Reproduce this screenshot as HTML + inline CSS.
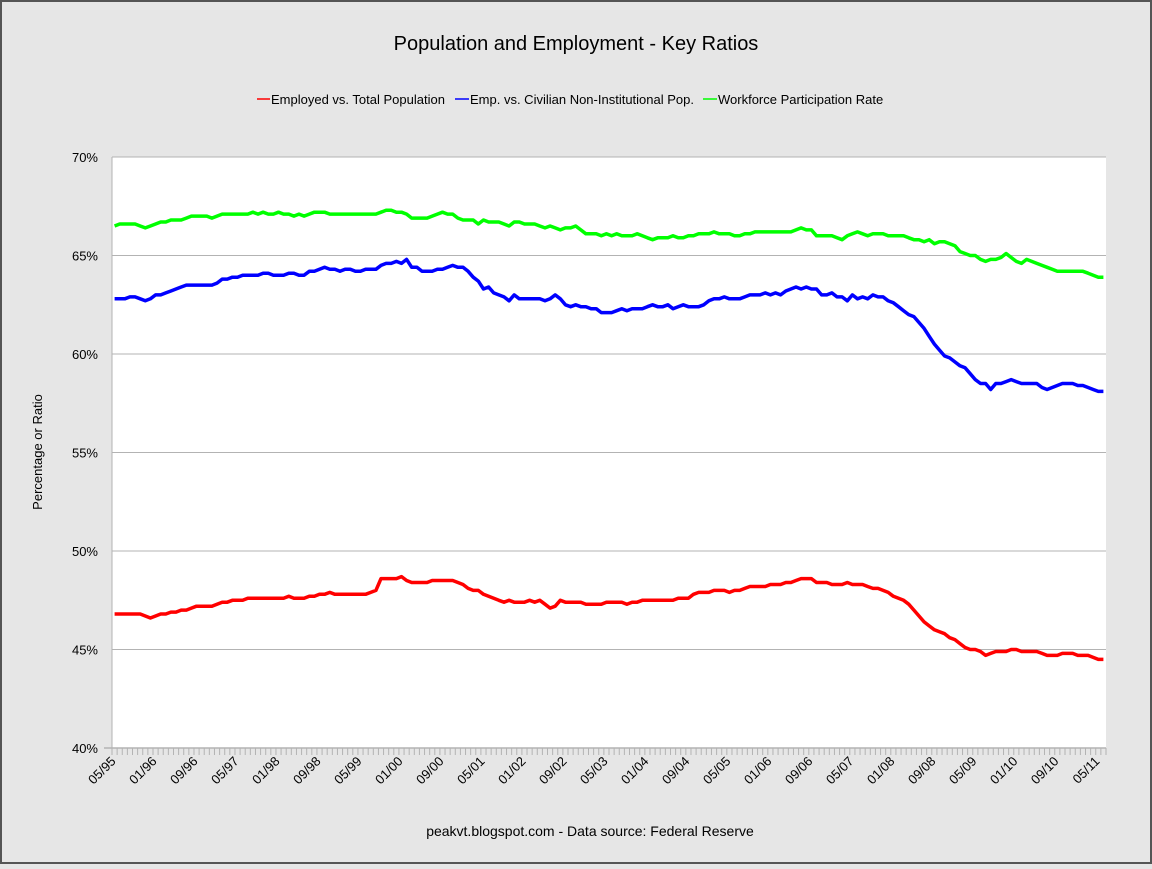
<!DOCTYPE html>
<html><head><meta charset="utf-8"><style>
html,body{margin:0;padding:0;}
body{width:1152px;height:864px;background:#e6e6e6;font-family:"Liberation Sans",sans-serif;overflow:hidden;}
</style></head><body>
<svg id="chart" width="1152" height="864" xmlns="http://www.w3.org/2000/svg" font-family="Liberation Sans, sans-serif">
<rect x="1" y="1" width="1150" height="862" fill="#e6e6e6" stroke="#555" stroke-width="2"/>
<text x="576" y="50" text-anchor="middle" font-size="20" fill="#000">Population and Employment - Key Ratios</text>
<g font-size="13">
<g><line x1="257" y1="99" x2="270" y2="99" stroke="#ff0000" stroke-width="1.5"/><text x="271" y="104" fill="#000">Employed vs. Total Population</text></g>
<g><line x1="455" y1="99" x2="469" y2="99" stroke="#0000ff" stroke-width="1.5"/><text x="470" y="104" fill="#000">Emp. vs. Civilian Non-Institutional Pop.</text></g>
<g><line x1="703" y1="99" x2="717" y2="99" stroke="#00ff00" stroke-width="1.5"/><text x="718" y="104" fill="#000">Workforce Participation Rate</text></g>
</g>
<text transform="translate(42,452) rotate(-90)" text-anchor="middle" font-size="13" fill="#000">Percentage or Ratio</text>
<text x="590" y="836" text-anchor="middle" font-size="14" fill="#000">peakvt.blogspot.com - Data source: Federal Reserve</text>
<rect x="112" y="157" width="994" height="591" fill="#fff"/>
<g id="grid"></g><g id="axes"></g><g id="series"></g>
</svg>
<script>
const yTicks=[40,45,50,55,60,65,70];
const xLabels=["05/95","01/96","09/96","05/97","01/98","09/98","05/99","01/00","09/00","05/01","01/02","09/02","05/03","01/04","09/04","05/05","01/06","09/06","05/07","01/08","09/08","05/09","01/10","09/10","05/11"];
const totalPop=[46.8,46.8,46.8,46.8,46.8,46.8,46.7,46.6,46.7,46.8,46.8,46.9,46.9,47.0,47.0,47.1,47.2,47.2,47.2,47.2,47.3,47.4,47.4,47.5,47.5,47.5,47.6,47.6,47.6,47.6,47.6,47.6,47.6,47.6,47.7,47.6,47.6,47.6,47.7,47.7,47.8,47.8,47.9,47.8,47.8,47.8,47.8,47.8,47.8,47.8,47.9,48.0,48.6,48.6,48.6,48.6,48.7,48.5,48.4,48.4,48.4,48.4,48.5,48.5,48.5,48.5,48.5,48.4,48.3,48.1,48.0,48.0,47.8,47.7,47.6,47.5,47.4,47.5,47.4,47.4,47.4,47.5,47.4,47.5,47.3,47.1,47.2,47.5,47.4,47.4,47.4,47.4,47.3,47.3,47.3,47.3,47.4,47.4,47.4,47.4,47.3,47.4,47.4,47.5,47.5,47.5,47.5,47.5,47.5,47.5,47.6,47.6,47.6,47.8,47.9,47.9,47.9,48.0,48.0,48.0,47.9,48.0,48.0,48.1,48.2,48.2,48.2,48.2,48.3,48.3,48.3,48.4,48.4,48.5,48.6,48.6,48.6,48.4,48.4,48.4,48.3,48.3,48.3,48.4,48.3,48.3,48.3,48.2,48.1,48.1,48.0,47.9,47.7,47.6,47.5,47.3,47.0,46.7,46.4,46.2,46.0,45.9,45.8,45.6,45.5,45.3,45.1,45.0,45.0,44.9,44.7,44.8,44.9,44.9,44.9,45.0,45.0,44.9,44.9,44.9,44.9,44.8,44.7,44.7,44.7,44.8,44.8,44.8,44.7,44.7,44.7,44.6,44.5,44.5];
const civilianPop=[62.8,62.8,62.8,62.9,62.9,62.8,62.7,62.8,63.0,63.0,63.1,63.2,63.3,63.4,63.5,63.5,63.5,63.5,63.5,63.5,63.6,63.8,63.8,63.9,63.9,64.0,64.0,64.0,64.0,64.1,64.1,64.0,64.0,64.0,64.1,64.1,64.0,64.0,64.2,64.2,64.3,64.4,64.3,64.3,64.2,64.3,64.3,64.2,64.2,64.3,64.3,64.3,64.5,64.6,64.6,64.7,64.6,64.8,64.4,64.4,64.2,64.2,64.2,64.3,64.3,64.4,64.5,64.4,64.4,64.2,63.9,63.7,63.3,63.4,63.1,63.0,62.9,62.7,63.0,62.8,62.8,62.8,62.8,62.8,62.7,62.8,63.0,62.8,62.5,62.4,62.5,62.4,62.4,62.3,62.3,62.1,62.1,62.1,62.2,62.3,62.2,62.3,62.3,62.3,62.4,62.5,62.4,62.4,62.5,62.3,62.4,62.5,62.4,62.4,62.4,62.5,62.7,62.8,62.8,62.9,62.8,62.8,62.8,62.9,63.0,63.0,63.0,63.1,63.0,63.1,63.0,63.2,63.3,63.4,63.3,63.4,63.3,63.3,63.0,63.0,63.1,62.9,62.9,62.7,63.0,62.8,62.9,62.8,63.0,62.9,62.9,62.7,62.6,62.4,62.2,62.0,61.9,61.6,61.3,60.9,60.5,60.2,59.9,59.8,59.6,59.4,59.3,59.0,58.7,58.5,58.5,58.2,58.5,58.5,58.6,58.7,58.6,58.5,58.5,58.5,58.5,58.3,58.2,58.3,58.4,58.5,58.5,58.5,58.4,58.4,58.3,58.2,58.1,58.1];
const participation=[66.5,66.6,66.6,66.6,66.6,66.5,66.4,66.5,66.6,66.7,66.7,66.8,66.8,66.8,66.9,67.0,67.0,67.0,67.0,66.9,67.0,67.1,67.1,67.1,67.1,67.1,67.1,67.2,67.1,67.2,67.1,67.1,67.2,67.1,67.1,67.0,67.1,67.0,67.1,67.2,67.2,67.2,67.1,67.1,67.1,67.1,67.1,67.1,67.1,67.1,67.1,67.1,67.2,67.3,67.3,67.2,67.2,67.1,66.9,66.9,66.9,66.9,67.0,67.1,67.2,67.1,67.1,66.9,66.8,66.8,66.8,66.6,66.8,66.7,66.7,66.7,66.6,66.5,66.7,66.7,66.6,66.6,66.6,66.5,66.4,66.5,66.4,66.3,66.4,66.4,66.5,66.3,66.1,66.1,66.1,66.0,66.1,66.0,66.1,66.0,66.0,66.0,66.1,66.0,65.9,65.8,65.9,65.9,65.9,66.0,65.9,65.9,66.0,66.0,66.1,66.1,66.1,66.2,66.1,66.1,66.1,66.0,66.0,66.1,66.1,66.2,66.2,66.2,66.2,66.2,66.2,66.2,66.2,66.3,66.4,66.3,66.3,66.0,66.0,66.0,66.0,65.9,65.8,66.0,66.1,66.2,66.1,66.0,66.1,66.1,66.1,66.0,66.0,66.0,66.0,65.9,65.8,65.8,65.7,65.8,65.6,65.7,65.7,65.6,65.5,65.2,65.1,65.0,65.0,64.8,64.7,64.8,64.8,64.9,65.1,64.9,64.7,64.6,64.8,64.7,64.6,64.5,64.4,64.3,64.2,64.2,64.2,64.2,64.2,64.2,64.1,64.0,63.9,63.9];

const NS="http://www.w3.org/2000/svg";
const X0=112,X1=1106,Y0=748,Y1=157,N=totalPop.length;
const step=(X1-X0)/N;
function xPos(i){return X0+(i+0.5)*step;}
function yPos(v){return Y0-(v-40)/30*(Y0-Y1);}
function mk(tag,attrs,parent){const e=document.createElementNS(NS,tag);for(const k in attrs)e.setAttribute(k,attrs[k]);parent.appendChild(e);return e;}
const grid=document.getElementById('grid'),axes=document.getElementById('axes'),ser=document.getElementById('series');
yTicks.forEach(t=>{
  const y=yPos(t);
  const gl=mk('line',{x1:X0,x2:X1,y1:y,y2:y,stroke:'#b3b3b3','stroke-width':1},grid);
  
  
  const tl=mk('text',{x:98,y:y+5,'text-anchor':'end','font-size':13,fill:'#000'},axes);
  tl.textContent=t+'%';
  
  
});
const ya=mk('line',{x1:X0,x2:X0,y1:Y1,y2:Y0,stroke:'#b3b3b3'},axes);


const xa=mk('line',{x1:X0-8,x2:X1,y1:Y0,y2:Y0,stroke:'#b3b3b3','stroke-width':1.5},axes);


for(let i=0;i<=N;i++){
  const x=X0+i*step;
  const tk=mk('line',{x1:x,x2:x,y1:Y0,y2:Y0+7,stroke:'#b3b3b3'},axes);
  
  
}
xLabels.forEach((lab,k)=>{
  const x=xPos(k*8)+2,y=Y0+14;
  const t=mk('text',{x:x,y:y,'text-anchor':'end','font-size':13,fill:'#000',transform:`rotate(-45 ${x} ${y})`},axes);
  t.textContent=lab;
  
  
});
function line(data,color,name){
  const pts=data.map((v,i)=>xPos(i).toFixed(1)+','+yPos(v).toFixed(1)).join(' ');
  const p=mk('polyline',{points:pts,fill:'none',stroke:color,'stroke-width':3.5,'stroke-linejoin':'round'},ser);
  
  
}
line(participation,'#00ff00','series-participation-rate');
line(civilianPop,'#0000ff','series-emp-vs-civilian');
line(totalPop,'#ff0000','series-emp-vs-total');
</script>
</body></html>
